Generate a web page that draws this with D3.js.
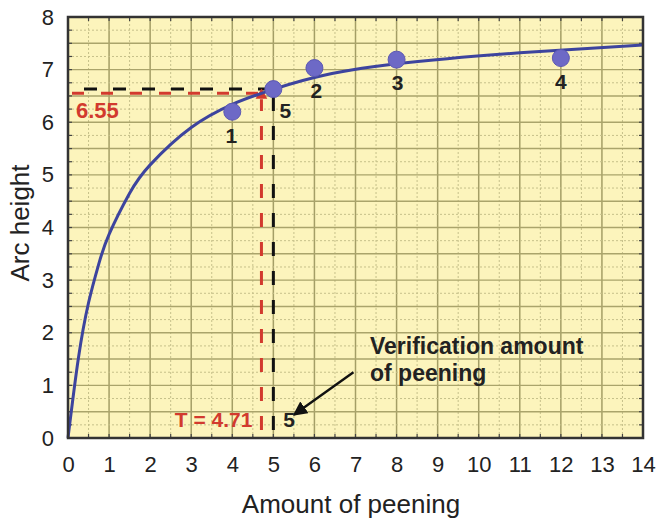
<!DOCTYPE html>
<html><head><meta charset="utf-8">
<script src="https://cdn.jsdelivr.net/npm/d3@7"></script>
<style>body{margin:0;background:#fff}svg{display:block}text{font-family:"Liberation Sans",Arial,sans-serif}</style>
</head><body><svg id="c" width="659" height="521"></svg>
<script>
// ---- data ----
const xTicks = d3.range(0, 15, 1);
const yTicks = d3.range(0, 9, 1);
const curveX = [0, 0.25, 0.5, 0.75, 1, 1.5, 2, 3, 4, 4.71, 6, 8, 11, 14];
const curveY = [0, 1.5, 2.57, 3.31, 3.87, 4.65, 5.19, 5.9, 6.34, 6.55, 6.85, 7.11, 7.32, 7.47];
const pointLabels = ["1", "5", "2", "3", "4"];
const pointX = [4, 5, 6, 8, 12];
const pointY = [6.2, 6.63, 7.03, 7.19, 7.22];
const tValue = 4.71, hValue = 6.55;
const verifyX = 5;

const svg = d3.select("#c");
const x = d3.scaleLinear().domain([0, 14]).range([68, 643]);
const y = d3.scaleLinear().domain([0, 8]).range([438, 17]);

// background
svg.append("rect").attr("x", x(0)).attr("y", y(8)).attr("width", x(14) - x(0)).attr("height", y(0) - y(8)).attr("fill", "#fcf4bc");

// grid
const g = svg.append("g");
d3.range(0.5, 14, 0.5).forEach(v => {
  const major = Number.isInteger(v);
  g.append("line").attr("x1", x(v)).attr("x2", x(v)).attr("y1", y(0)).attr("y2", y(8))
    .attr("stroke", major ? "#a49e66" : "#c6c08a").attr("stroke-width", major ? 1.5 : 1)
    .attr("stroke-dasharray", major ? null : "2,2");
});
d3.range(0.25, 8, 0.25).forEach(v => {
  const major = Math.abs(v * 2 - Math.round(v * 2)) < 1e-9;
  g.append("line").attr("x1", x(0)).attr("x2", x(14)).attr("y1", y(v)).attr("y2", y(v))
    .attr("stroke", major ? "#aaa46b" : "#c6c08a").attr("stroke-width", major ? 1.4 : 1)
    .attr("stroke-dasharray", major ? null : "2,2");
});
// inner minor ticks
d3.range(0.25, 8, 0.25).forEach(v => {
  g.append("line").attr("x1", x(0)).attr("x2", x(0) + 4).attr("y1", y(v)).attr("y2", y(v)).attr("stroke", "#444").attr("stroke-width", 1.2);
  g.append("line").attr("x1", x(14)).attr("x2", x(14) - 4).attr("y1", y(v)).attr("y2", y(v)).attr("stroke", "#444").attr("stroke-width", 1.2);
});
d3.range(0.5, 14, 0.5).forEach(v => {
  g.append("line").attr("x1", x(v)).attr("x2", x(v)).attr("y1", y(0)).attr("y2", y(0) - 4).attr("stroke", "#444").attr("stroke-width", 1.2);
  g.append("line").attr("x1", x(v)).attr("x2", x(v)).attr("y1", y(8)).attr("y2", y(8) + 4).attr("stroke", "#444").attr("stroke-width", 1.2);
});

// axes labels
const xAxis = d3.axisBottom(x).tickValues(xTicks).tickSize(0).tickPadding(18).tickFormat(d3.format("d"));
const xa = svg.append("g").attr("transform", `translate(0,${y(0)})`).call(xAxis);
xa.select(".domain").remove();
xa.selectAll("text").attr("font-size", 22).attr("fill", "#222").attr("font-family", "Liberation Sans, Arial, sans-serif");
const yAxis = d3.axisLeft(y).tickValues(yTicks).tickSize(0).tickPadding(14).tickFormat(d3.format("d"));
const ya = svg.append("g").attr("transform", `translate(${x(0)},0)`).call(yAxis);
ya.select(".domain").remove();
ya.selectAll("text").attr("font-size", 22).attr("fill", "#222").attr("font-family", "Liberation Sans, Arial, sans-serif");

svg.append("text").attr("x", 351).attr("y", 513).attr("text-anchor", "middle").attr("font-size", 26).attr("fill", "#222").text("Amount of peening");
svg.append("text").attr("transform", "translate(29,223) rotate(-90)").attr("text-anchor", "middle").attr("font-size", 26).attr("fill", "#222").text("Arc height");

// dashed guide lines
const red = "#d23a2e";
svg.append("line").attr("x1", x(0) + 4).attr("x2", x(tValue)).attr("y1", y(hValue)).attr("y2", y(hValue))
  .attr("stroke", red).attr("stroke-width", 3).attr("stroke-dasharray", "12,17");
svg.append("line").attr("x1", x(0) + 16).attr("x2", x(verifyX)).attr("y1", y(pointY[1])).attr("y2", y(pointY[1]))
  .attr("stroke", "#111").attr("stroke-width", 3).attr("stroke-dasharray", "13,16");
svg.append("line").attr("x1", x(tValue)).attr("x2", x(tValue)).attr("y1", y(0) - 8).attr("y2", y(hValue) + 6)
  .attr("stroke", red).attr("stroke-width", 3).attr("stroke-dasharray", "14,15");
svg.append("line").attr("x1", x(verifyX)).attr("x2", x(verifyX)).attr("y1", y(0) - 8).attr("y2", y(pointY[1]) + 6)
  .attr("stroke", "#111").attr("stroke-width", 3).attr("stroke-dasharray", "14,15");
// red marker at intersection
svg.append("path").attr("d", d3.symbol(d3.symbolTriangle, 60)()).attr("transform", `translate(${x(tValue)},${y(hValue) + 2})`).attr("fill", red);

// curve
const line = d3.line().x((d, i) => x(curveX[i])).y(d => y(d)).curve(d3.curveNatural);
svg.append("path").datum(curveY).attr("d", line).attr("fill", "none").attr("stroke", "#3d449e").attr("stroke-width", 3);

// frame
svg.append("rect").attr("x", x(0)).attr("y", y(8)).attr("width", x(14) - x(0)).attr("height", y(0) - y(8)).attr("fill", "none").attr("stroke", "#333").attr("stroke-width", 2.5);

// points
pointX.forEach((px, i) => {
  svg.append("circle").attr("cx", x(px)).attr("cy", y(pointY[i])).attr("r", 8.5).attr("fill", "#6d69c6").attr("stroke", "#5c58b3").attr("stroke-width", 1);
});
const labOff = [[-1, 31], [12, 29], [2, 30], [1, 30], [0, 31]];
pointX.forEach((px, i) => {
  svg.append("text").attr("x", x(px) + labOff[i][0]).attr("y", y(pointY[i]) + labOff[i][1]).attr("text-anchor", "middle")
    .attr("font-size", 21).attr("font-weight", "bold").attr("fill", "#222").text(pointLabels[i]);
});

// annotations
svg.append("text").attr("x", x(0) + 8).attr("y", y(hValue) + 25).attr("font-size", 22).attr("font-weight", "bold").attr("fill", red).text("6.55");
svg.append("text").attr("x", x(tValue) - 9).attr("y", y(0) - 11).attr("text-anchor", "end").attr("font-size", 21).attr("font-weight", "bold").attr("fill", red).text("T = 4.71");
svg.append("text").attr("x", x(verifyX) + 10).attr("y", y(0) - 11).attr("font-size", 21).attr("font-weight", "bold").attr("fill", "#222").text("5");
svg.append("text").attr("x", 370).attr("y", 354).attr("font-size", 23).attr("font-weight", "bold").attr("fill", "#222").text("Verification amount");
svg.append("text").attr("x", 370).attr("y", 381).attr("font-size", 23).attr("font-weight", "bold").attr("fill", "#222").text("of peening");
svg.append("defs").append("marker").attr("id", "ah").attr("viewBox", "0 0 10 10").attr("refX", 9).attr("refY", 5)
  .attr("markerWidth", 6).attr("markerHeight", 6).attr("orient", "auto")
  .append("path").attr("d", "M0,0L10,5L0,10z").attr("fill", "#111");
svg.append("line").attr("x1", x(6.95)).attr("y1", y(1.25)).attr("x2", x(5.5)).attr("y2", y(0.44))
  .attr("stroke", "#111").attr("stroke-width", 2.4).attr("marker-end", "url(#ah)");
</script></body></html>
